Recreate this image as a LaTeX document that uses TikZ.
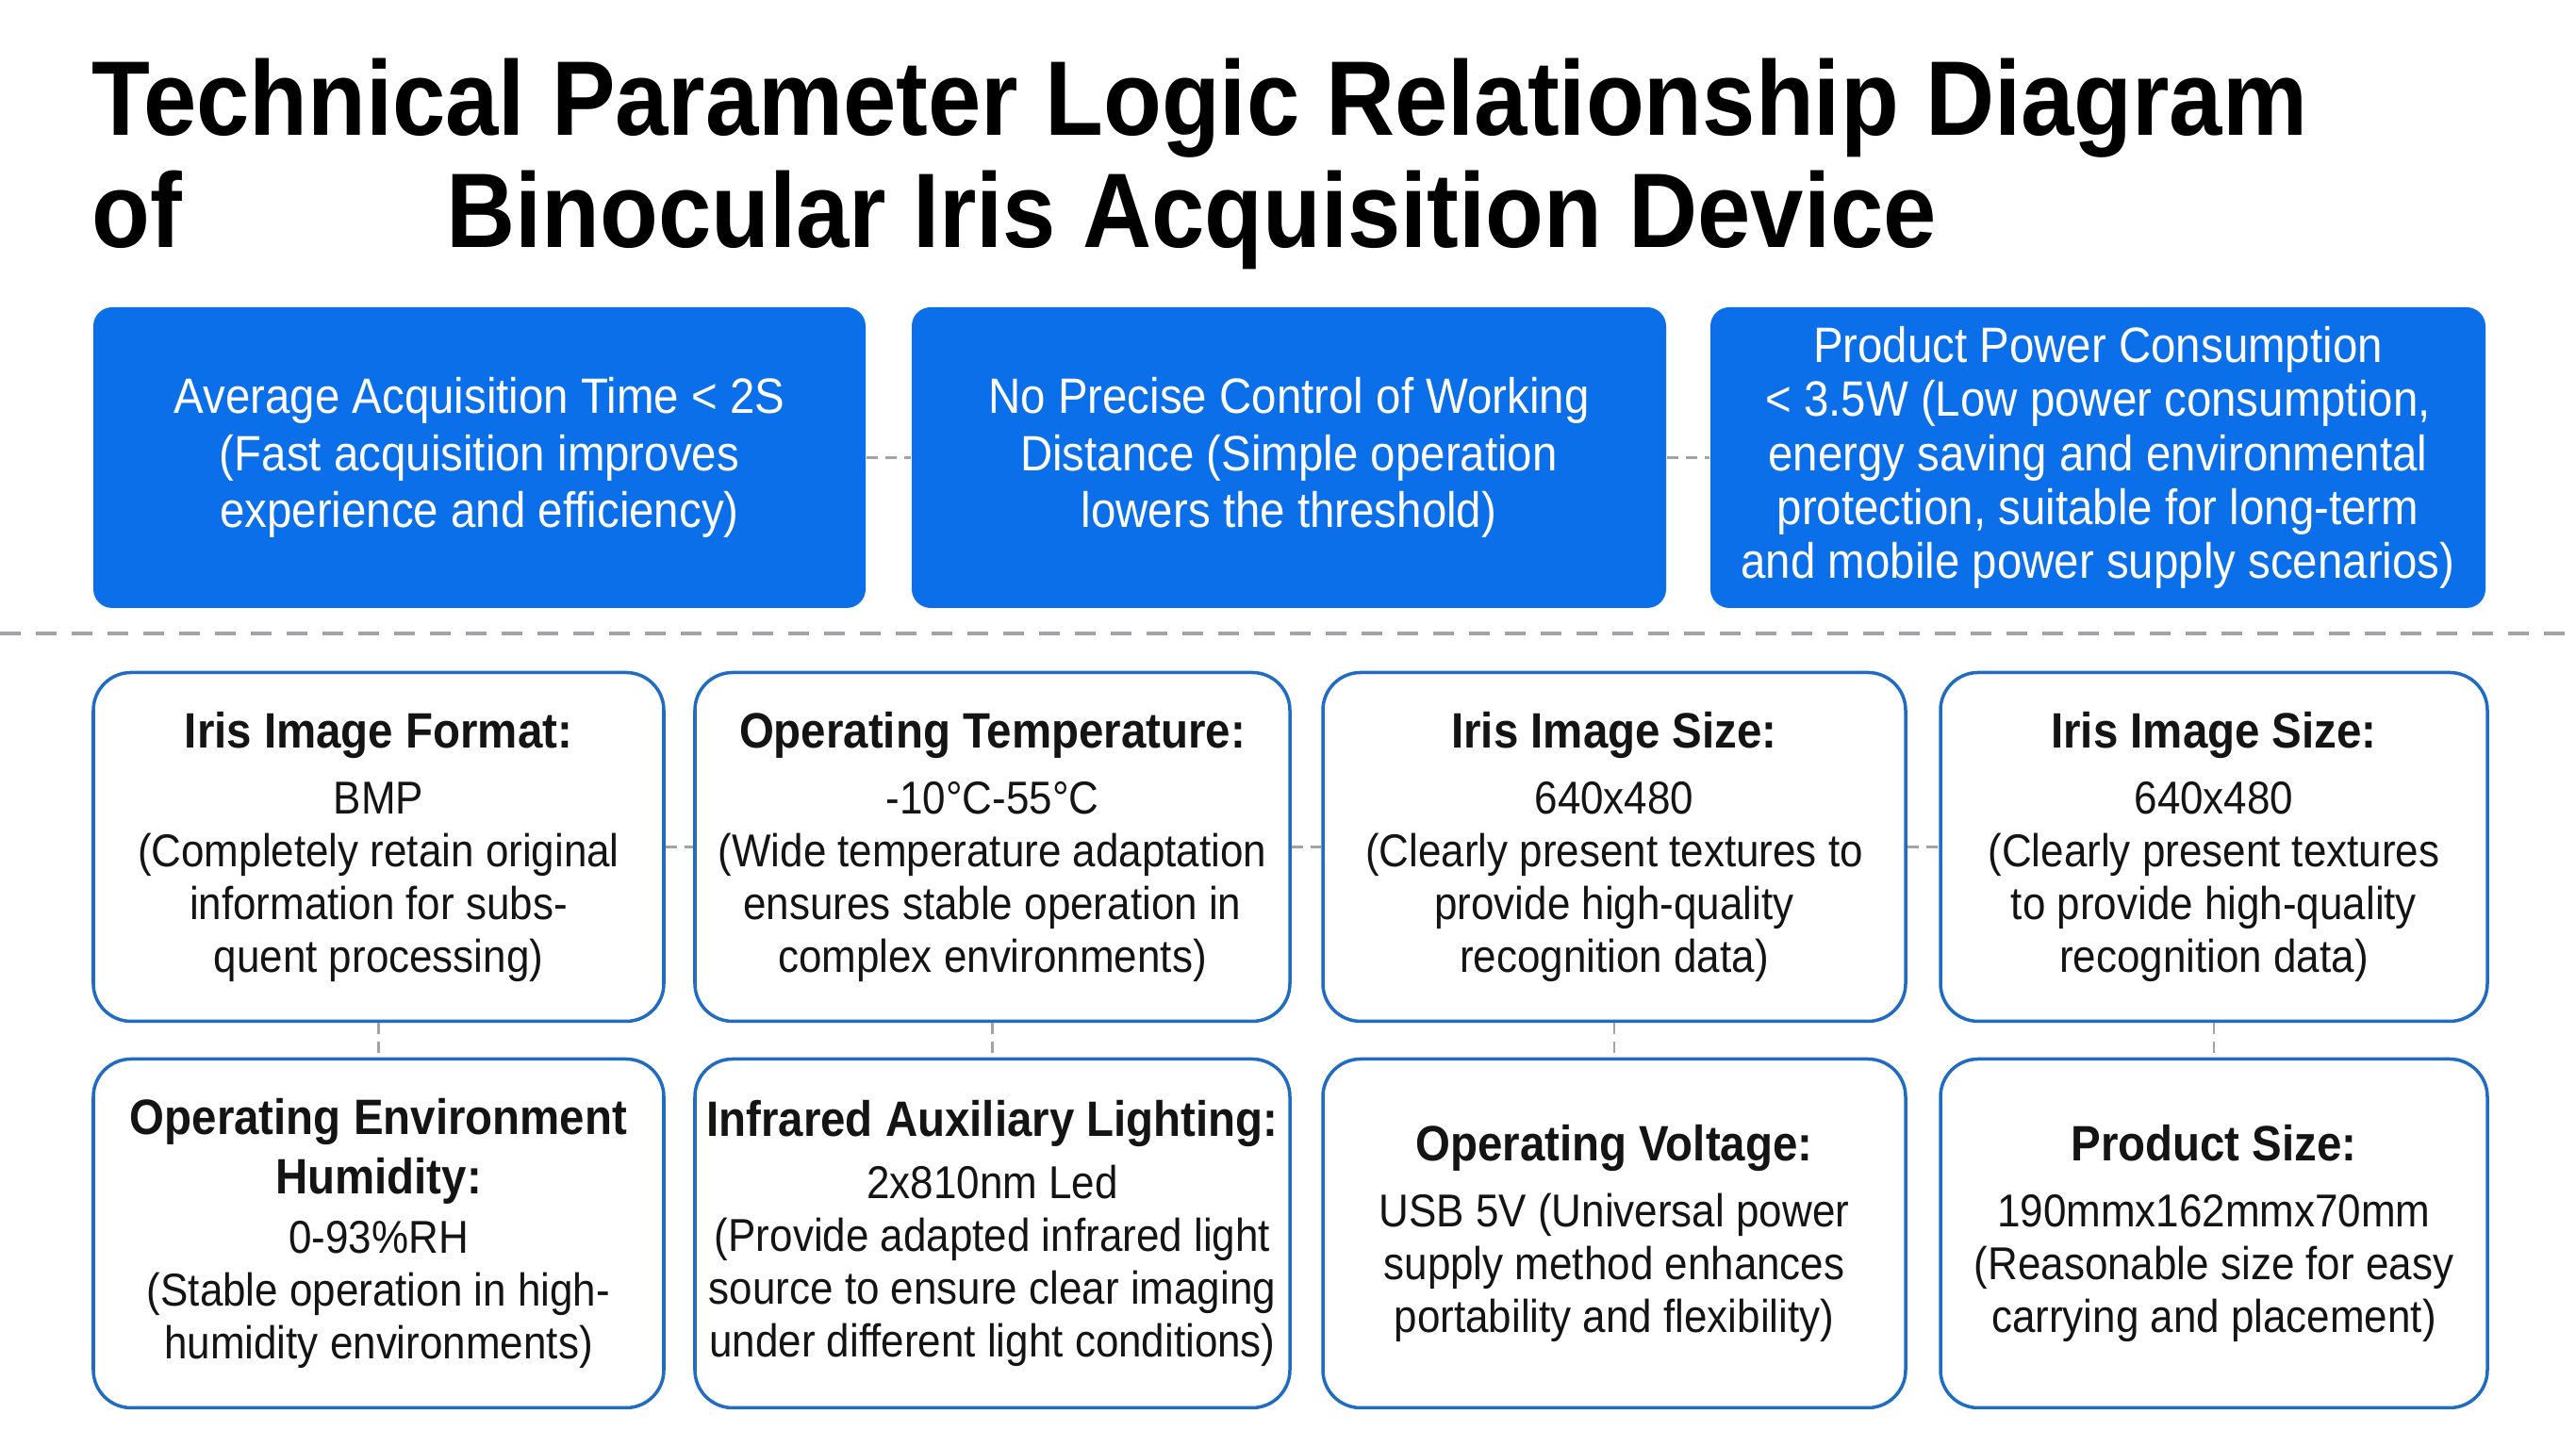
\documentclass[tikz,border=0pt]{standalone}
\usepackage{fontspec}
\setmainfont{Liberation Sans}
\newfontfamily\bodyfont[FakeStretch=0.9]{Liberation Sans}
\newfontfamily\headfont[FakeStretch=0.9]{Liberation Sans}
\usepackage{tikz}
\usetikzlibrary{positioning}
\definecolor{panelblue}{RGB}{10,111,232}
\definecolor{edgeblue}{RGB}{32,108,196}
\definecolor{linkgray}{RGB}{160,164,168}
\tikzset{%
  topblock/.style  = {fill=panelblue, rounded corners=0.2cm, text=white, align=center,
    inner sep=0pt, minimum height=3.19cm, font=\bodyfont\fontsize{15}{17.3}\selectfont},
  infoblock/.style = {draw=edgeblue, line width=1pt, fill=white, rounded corners=0.4cm,
    text=black!92, align=center, inner sep=0pt, minimum height=3.7cm,
    font=\bodyfont\fontsize{13.9}{15.9}\selectfont},
  link/.style      = {draw=linkgray, line width=0.8pt, dash pattern=on 0.12cm off 0.08cm}, % between boxes
  divider/.style   = {draw=linkgray, line width=1.2pt, dash pattern=on 0.22cm off 0.16cm},
  titletext/.style = {anchor=base west, inner sep=0pt, font=\headfont\bfseries\fontsize{32}{34}\selectfont}
}
\newcommand{\hd}[1]{{\bfseries\fontsize{15}{17}\selectfont #1}}

\begin{document}
\begin{tikzpicture}[auto, node distance=6.5cm]

	\fill[white] (0,0) rectangle (27.32,15.34);
	\useasboundingbox (0,0) rectangle (27.32,15.34);

	% title
	\draw node at (0.97,13.90) [titletext] (title1) {Technical Parameter Logic Relationship Diagram};
	\draw node at (0.97,12.71) [titletext] (title2) {of\hspace{2.8cm}Binocular Iris Acquisition Device};

	% top row
	\draw node at (5.085,10.485) [topblock, minimum width=8.19cm] (avgtime) {Average Acquisition Time < 2S\\(Fast acquisition improves\\experience and efficiency)};
	\draw node [topblock, right of=avgtime, node distance = 8.585cm, minimum width=8.0cm] (workdist) {No Precise Control of Working\\Distance (Simple operation\\lowers the threshold)};
	\draw node [topblock, right of=workdist, node distance = 8.58cm, minimum width=8.22cm, font=\bodyfont\fontsize{15}{16.3}\selectfont] (power) {Product Power Consumption\\< 3.5W (Low power consumption,\\energy saving and environmental\\protection, suitable for long-term\\and mobile power supply scenarios)};

	\coordinate (sepL) at (0,8.62);
	\coordinate (sepR) at (27.32,8.62);
	\draw[divider] (sepL) -- (sepR);

	% parameter rows
	\draw node at (4.015,6.355) [infoblock, minimum width=6.05cm] (format) {\hd{Iris Image Format:}\\[4pt]BMP\\(Completely retain original\\information for subs-\\quent processing)};
	\draw node [infoblock, right of=format, node distance = 6.51cm, minimum width=6.31cm] (temp) {\hd{Operating Temperature:}\\[4pt]-10°C-55°C\\(Wide temperature adaptation\\ensures stable operation in\\complex environments)};
	\draw node [infoblock, right of=temp, node distance = 6.595cm, minimum width=6.18cm] (sizeA) {\hd{Iris Image Size:}\\[4pt]640x480\\(Clearly present textures to\\provide high-quality\\recognition data)};
	\draw node [infoblock, right of=sizeA, node distance = 6.36cm, minimum width=5.8cm] (sizeB) {\hd{Iris Image Size:}\\[4pt]640x480\\(Clearly present textures\\to provide high-quality\\recognition data)};

	\draw node [infoblock, below of=format, node distance = 4.1cm, minimum width=6.05cm] (humid) {\hd{Operating Environment}\\[2pt]\hd{Humidity:}\\[2pt]0-93\%RH\\(Stable operation in high-\\humidity environments)};
	\draw node [infoblock, below of=temp, node distance = 4.1cm, minimum width=6.31cm] (light) {\hd{Infrared Auxiliary Lighting:}\\[3pt]2x810nm Led\\(Provide adapted infrared light\\source to ensure clear imaging\\under different light conditions)};
	\draw node [infoblock, below of=sizeA, node distance = 4.1cm, minimum width=6.18cm] (volt) {\hd{Operating Voltage:}\\[4pt]USB 5V (Universal power\\supply method enhances\\portability and flexibility)};
	\draw node [infoblock, below of=sizeB, node distance = 4.1cm, minimum width=5.8cm] (dims) {\hd{Product Size:}\\[4pt]190mmx162mmx70mm\\(Reasonable size for easy\\carrying and placement)};

	\draw[link] (avgtime) -- (workdist);
	\draw[link] (workdist) -- (power);
	\draw[link] (format) -- (temp);
	\draw[link] (temp) -- (sizeA);
	\draw[link] (sizeA) -- (sizeB);
	\draw[link] (format) -- (humid);
	\draw[link] (temp) -- (light);
	\draw[link] (sizeA) -- (volt);
	\draw[link] (sizeB) -- (dims);

\end{tikzpicture}
\end{document}
